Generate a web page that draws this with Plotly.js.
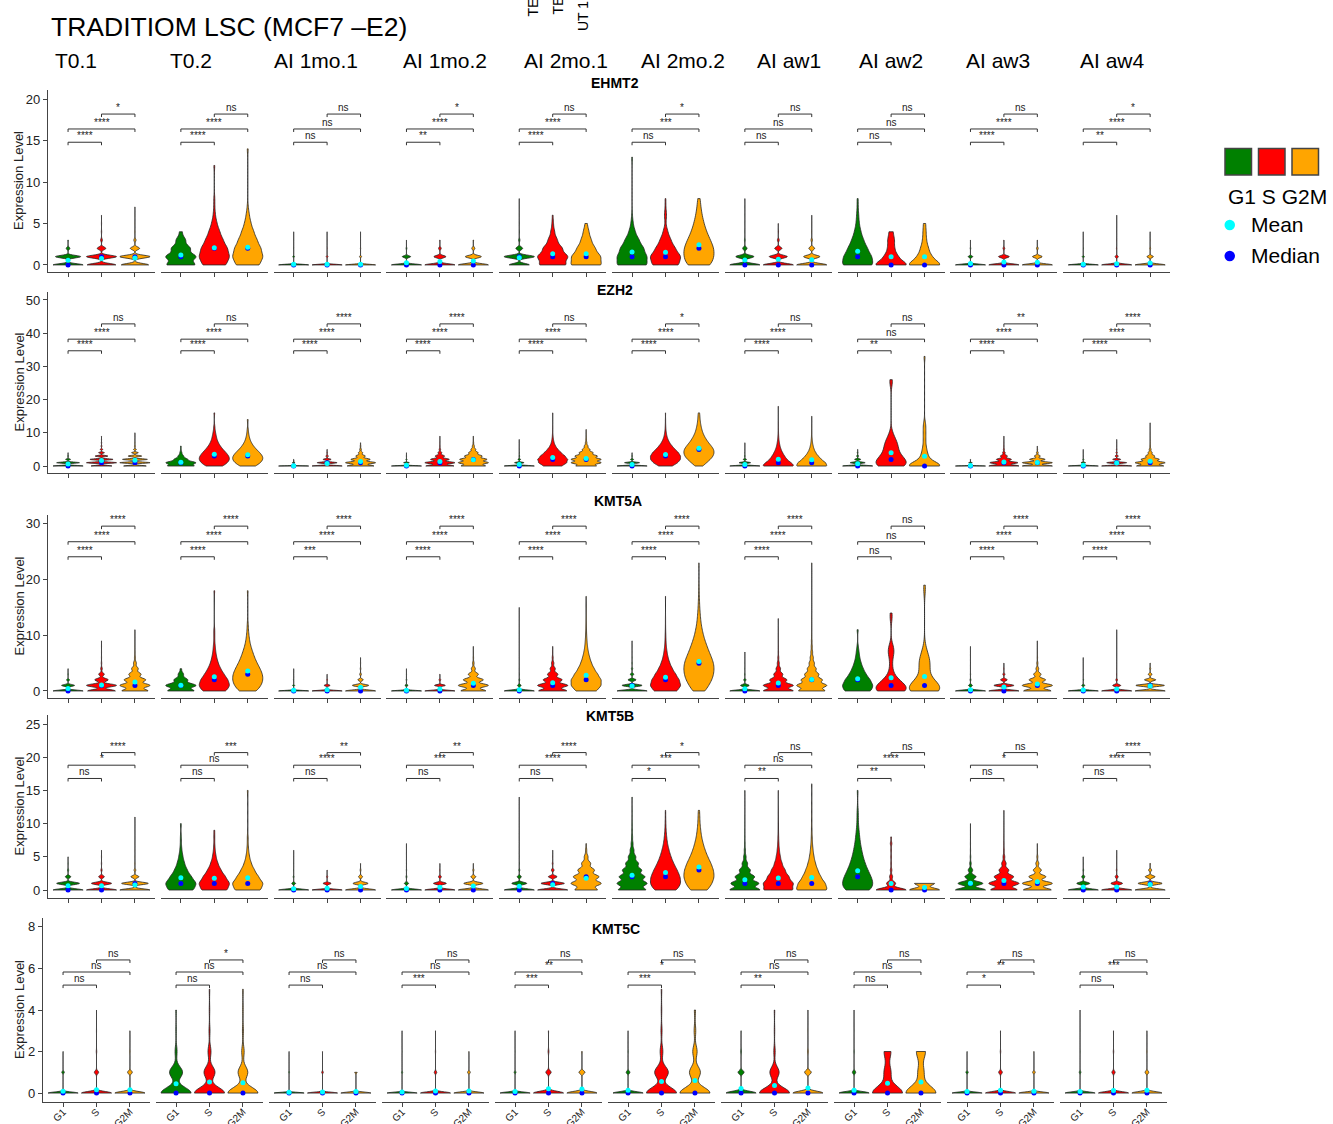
<!DOCTYPE html>
<html><head><meta charset="utf-8">
<script src="https://cdn.plot.ly/plotly-3.0.1.min.js"></script>
<style>html,body{margin:0;padding:0;background:#fff}#chart{width:1333px;height:1124px}</style>
</head><body><div id="chart"></div>
<script>
// ---------------- DATA ----------------
const conditions = ["T0.1","T0.2","AI 1mo.1","AI 1mo.2","AI 2mo.1","AI 2mo.2","AI aw1","AI aw2","AI aw3","AI aw4"];
const phases = ["G1","S","G2M"];
const genes = ["EHMT2","EZH2","KMT5A","KMT5B","KMT5C"];
// number of cells at each integer expression level 0,1,2,... ; per condition: [G1, S, G2M]
const EHMT2 = [
 [[500,420,60,8],[400,420,120,25,5,2,1],[380,420,130,30,6,2,1,1]],
 [[30,32,20,10,3],[22,28,24,16,10,5,2,1,1,0,0,0,1],[22,28,24,17,11,6,3,1,0,0,0,0,0,0,1]],
 [[900,50,8,2,1],[900,50,8,2,1],[900,60,8,2,1]],
 [[800,220,20,3],[700,280,60,8],[600,320,60,10]],
 [[300,450,100,20,5,2,1,1,1],[35,40,25,12,5,2,1],[28,26,16,9,5,2]],
 [[40,38,30,18,8,3,1,0,0,0,0,0,0,1],[35,40,25,14,6,1,3,1,1],[20,24,24,18,12,8,5,3,2]],
 [[550,330,80,15,3,1,1,1,1],[500,300,120,30,8,2],[520,280,100,25,6,2,1]],
 [[30,26,18,11,6,3,2,1,1],[40,16,8,8,5],[45,18,10,5,4,3]],
 [[850,130,15,3],[700,250,40,5],[720,230,40,5]],
 [[900,60,10,3,1],[880,90,15,5,2,1,1],[800,170,25,5,2]]
];
const EZH2 = [
 [[500,380,80,15,3],[180,260,200,110,50,20,8,3,1,1],[200,270,220,120,60,25,10,4,2,1,1]],
 [[40,45,20,8,3,1,1],[14,20,24,22,18,13,9,6,4,3,2,1,1,0,0,0,1],[12,18,22,21,17,12,8,5,3,2,1,1,0,0,1]],
 [[900,80,10],[450,300,120,40,10,3],[250,280,180,90,40,15,5,2]],
 [[800,150,30,8,2],[300,320,200,100,40,15,5,2,1,1],[180,220,200,130,70,35,15,5,2,1]],
 [[700,220,60,20,8,3,1,1,1],[100,150,160,130,90,55,30,15,8,4,2,1,1,0,0,0,1],[110,160,160,120,75,40,20,8,4,2,1,1]],
 [[600,300,60,15,3],[50,90,110,110,95,70,48,30,18,10,6,3,2,1,1,0,1],[20,40,60,75,80,78,65,50,38,28,20,15,11,8,6,5,4]],
 [[650,250,70,20,6,2,1,1],[220,160,110,80,55,35,22,14,8,5,3,2,1,1,0,0,0,0,1],[200,170,120,80,50,30,18,10,6,3,2,1,1,0,0,1]],
 [[300,150,60,20,8,2],[10,8,6,4,3,3,3,3,2,1,1,0,0,0,0,0,0,0,0,0,0,0,0,0,0,1,1],[26,5,4,3,2,2,1,1,1,1,1,1,1,1,0,0,0,0,0,0,0,0,0,0,0,0,0,0,0,0,0,0,0,1]],
 [[850,100,10],[300,280,150,70,25,10,4,2,1,1],[250,250,130,50,15,4,1]],
 [[800,120,30,8,3,1],[450,300,120,50,20,8,3,1,1],[300,330,200,100,45,20,8,4,2,1,1,0,0,1]]
];
const KMT5A = [
 [[650,280,60,12,3],[350,380,170,70,20,6,2,1,1,1],[280,320,230,130,70,30,10,4,2,1,1,1]],
 [[35,40,18,7,2],[25,32,28,20,13,8,5,3,2,1,1,1,0,0,0,0,0,0,1],[15,22,25,24,20,15,11,8,5,3,2,1,1,0,0,0,0,0,1]],
 [[900,60,15,5,2],[800,160,25,4],[550,300,100,30,10,3,1]],
 [[880,90,20,5,2],[700,250,40,6],[250,300,200,100,40,15,5,2,1]],
 [[850,100,25,8,3,1,1,0,0,0,0,0,0,0,0,1],[300,320,200,110,55,25,10,4,2],[120,170,170,130,90,60,40,25,15,10,6,4,3,2,1,1,0,1]],
 [[450,300,120,50,20,8,3,1,1,1],[140,180,160,120,80,50,30,18,10,6,4,2,1,1,0,0,0,1],[32,48,64,72,75,72,62,50,40,30,22,16,11,8,6,4,3,2,1,1,0,0,0,1]],
 [[700,200,50,15,5,2,1,1],[300,300,170,90,45,20,10,5,3,2,1,1,0,1],[150,170,120,80,50,30,18,10,6,4,2,1,1,1,0,0,0,0,0,0,0,0,0,1]],
 [[20,22,18,12,8,5,3,2,1,0,0,1],[16,12,5,2,1,1,1,3,2,0,0,0,0,1,1],[20,14,5,3,4,5,4,2,1,0,0,0,0,0,0,0,0,0,1,1]],
 [[850,110,25,8,3,2,1,1,1],[450,300,100,30,8,2],[300,330,180,80,30,12,5,2,1,1]],
 [[880,90,20,6,2,1,1],[750,200,40,10,4,2,1,1,0,0,0,1],[400,380,150,50,15,4]]
];
const KMT5B = [
 [[500,380,90,20,5,2],[520,350,100,20,5,2,1],[450,400,120,25,6,2,1,1,0,0,0,1]],
 [[25,30,20,12,7,4,2,1,1,0,1],[30,35,25,15,8,4,2,1,1,1],[30,35,24,15,8,4,2,1,1,0,0,0,0,0,0,1]],
 [[850,110,25,8,3,1,1],[750,200,30,5],[600,300,80,15,3]],
 [[850,120,25,8,3,1,1,1],[650,280,60,10,2],[550,350,90,20,4]],
 [[600,300,80,20,6,2,1,1,0,0,0,0,0,0,1],[450,350,130,40,12,3,1],[150,200,170,110,60,25,8,2]],
 [[130,140,120,90,60,35,18,9,5,3,2,1,1,0,1],[60,80,75,60,42,28,18,10,6,3,2,1,1],[40,60,70,66,55,40,28,19,12,8,5,4,3]],
 [[250,230,160,90,45,20,10,5,3,2,1,1,0,0,0,1],[200,200,140,90,50,28,15,8,5,3,2,1,1,0,0,1],[220,180,120,80,50,30,18,10,6,4,3,2,1,1,0,0,1]],
 [[22,24,20,15,11,8,6,4,3,2,1,1,1,0,0,1],[40,12,4,2,1,1,1,2,1],[6,4]],
 [[400,330,150,60,20,8,3,2,1,1,1],[300,340,220,110,50,20,8,4,2,1,1,0,1],[280,300,170,80,30,10,3,1]],
 [[600,260,60,15,4,1],[620,240,60,15,4,2,1],[400,320,130,40,8]]
];
const KMT5C = [
 [[3600,300,15],[3400,480,50,10,3],[3350,520,50,10]],
 [[60,26,4,1,1],[60,22,6,2,1,1],[62,20,5,2,1,1]],
 [[3850,120,10],[3750,200,12],[3650,300]],
 [[3800,150,15,3],[3600,300,30,6],[3600,320,25]],
 [[3720,220,20,6],[3200,560,90,18],[3200,640,60]],
 [[3440,420,40,6],[55,25,5,2,1,1],[55,20,8,3,2]],
 [[3200,640,90,18],[65,20,3,1,1],[3100,680,90,18,6]],
 [[3480,380,50,10,3],[22,5,5],[20,4,6]],
 [[3700,280,15],[3480,420,50,10],[3600,300,25]],
 [[3720,200,25,10,3],[3520,380,50,10],[3480,420,50,10]]
];
// significance labels per condition: [G1 vs S, G1 vs G2M, S vs G2M]
const EHMT2_sig = [["****","****","*"],["****","****","ns"],["ns","ns","ns"],["**","****","*"],["****","****","ns"],["ns","***","*"],["ns","ns","ns"],["ns","ns","ns"],["****","****","ns"],["**","****","*"]];
const EZH2_sig  = [["****","****","ns"],["****","****","ns"],["****","****","****"],["****","****","****"],["****","****","ns"],["****","****","*"],["****","****","ns"],["**","ns","ns"],["****","****","**"],["****","****","****"]];
const KMT5A_sig = [["****","****","****"],["****","****","****"],["***","****","****"],["****","****","****"],["****","****","****"],["****","****","****"],["****","****","****"],["ns","ns","ns"],["****","****","****"],["****","****","****"]];
const KMT5B_sig = [["ns","*","****"],["ns","ns","***"],["ns","****","**"],["ns","***","**"],["ns","****","****"],["*","***","*"],["**","ns","ns"],["**","****","ns"],["ns","*","ns"],["ns","****","****"]];
const KMT5C_sig = [["ns","ns","ns"],["ns","ns","*"],["ns","ns","ns"],["***","ns","ns"],["***","**","ns"],["***","*","ns"],["**","ns","ns"],["ns","ns","ns"],["*","**","ns"],["ns","***","ns"]];
const yTickVals = [[0,5,10,15,20],[0,10,20,30,40,50],[0,10,20,30],[0,5,10,15,20,25],[0,2,4,6,8]];

// ---------------- LAYOUT CONSTANTS ----------------
const geneData = [EHMT2, EZH2, KMT5A, KMT5B, KMT5C];
const geneSig = [EHMT2_sig, EZH2_sig, KMT5A_sig, KMT5B_sig, KMT5C_sig];
const W = 1333, H = 1124;
const PX = v => v / W, PY = v => 1 - v / H;
const FONT = "Liberation Sans, Arial, Helvetica, sans-serif";
const colors = ["#008000", "#FF0000", "#FFA500"];
const rowTop = [90, 292, 515, 715, 918];
const rowBot = [272, 473, 698, 898, 1102];
const yRanges = [[-0.85, 21.1], [-2.1, 52.4], [-1.26, 31.6], [-1.2, 26.36], [-0.43, 8.43]];
const brH = [[14.8, 16.4, 18.2], [34.7, 38.2, 42.8], [24.1, 26.8, 29.6], [16.8, 18.8, 20.7], [5.2, 5.83, 6.41]];
const rowLeft = [48, 48, 48, 48, 43];
const rowPitch = [112.8, 112.8, 112.8, 112.8, 113];
const panelW = 107;
const geneTitlePos = [[615, 83], [615, 290], [618, 501], [610, 716], [616, 929]];
const condLabelX = [53, 168, 272, 401, 522, 639, 755, 857, 964, 1078];

// ---------------- HELPERS ----------------
function expand(counts) { const v = []; counts.forEach((n, k) => { for (let j = 0; j < n; j++) v.push(k); }); return v; }
function q7(s, p) { const h = (s.length - 1) * p, lo = Math.floor(h), hi = Math.ceil(h); return s[lo] + (h - lo) * (s[hi] - s[lo]); }
function stats(vals) {
  const n = vals.length; const mean = vals.reduce((a, b) => a + b, 0) / n;
  const sd = Math.sqrt(vals.reduce((a, b) => a + (b - mean) * (b - mean), 0) / (n - 1));
  const s = vals.slice().sort((a, b) => a - b);
  const med = q7(s, 0.5); const iqr = q7(s, 0.75) - q7(s, 0.25);
  let lo = Math.min(sd, iqr / 1.34); if (!lo) lo = sd || Math.abs(s[0]) || 1;
  return { mean, med, bw: 0.9 * lo * Math.pow(n, -0.2) };
}

// ---------------- BUILD ----------------
const traces = [], annotations = [], shapes = [];
const layout = {
  width: W, height: H, margin: { l: 0, r: 0, t: 0, b: 0 }, paper_bgcolor: "#fff", plot_bgcolor: "rgba(0,0,0,0)",
  font: { family: FONT, color: "#1a1a1a" }, showlegend: false, violinmode: "overlay"
};

for (let r = 0; r < 5; r++) {
  const yName = r === 0 ? "y" : "y" + (r + 1);
  const yKey = r === 0 ? "yaxis" : "yaxis" + (r + 1);
  const firstX = r * 10 + 1;
  const pxPerUnit = (rowBot[r] - rowTop[r]) / (yRanges[r][1] - yRanges[r][0]);
  const d = 3 / pxPerUnit;
  layout[yKey] = {
    domain: [PY(rowBot[r]), PY(rowTop[r])], range: yRanges[r], anchor: firstX === 1 ? "x" : "x" + firstX,
    tickvals: yTickVals[r], showline: true, linecolor: "#444", linewidth: 1.2, ticks: "outside", ticklen: 4,
    tickcolor: "#444", tickfont: { size: 13, color: "#222" }, showgrid: false, zeroline: false, fixedrange: true
  };
  annotations.push({ xref: "paper", yref: "paper", x: PX(19), y: PY((rowTop[r] + rowBot[r]) / 2), text: "Expression Level",
    textangle: -90, showarrow: false, xanchor: "center", yanchor: "middle", font: { size: 13, color: "#222" } });
  annotations.push({ xref: "paper", yref: "paper", x: PX(geneTitlePos[r][0]), y: PY(geneTitlePos[r][1]), text: "<b>" + genes[r] + "</b>",
    showarrow: false, xanchor: "center", yanchor: "middle", font: { size: 14, color: "#000" } });

  for (let c = 0; c < 10; c++) {
    const i = r * 10 + c + 1;
    const xName = i === 1 ? "x" : "x" + i;
    const xKey = i === 1 ? "xaxis" : "xaxis" + i;
    const left = rowLeft[r] + c * rowPitch[r];
    layout[xKey] = {
      domain: [PX(left), PX(left + panelW)], range: [0.4, 3.6], anchor: yName,
      tickvals: [1, 2, 3], ticktext: phases, showticklabels: r === 4, tickangle: -45, ticklabelstandoff: -5,
      tickfont: { size: 10, color: "#222" }, showline: true, linecolor: "#444", linewidth: 1.2,
      ticks: "outside", ticklen: 4, tickcolor: "#444", showgrid: false, zeroline: false, fixedrange: true
    };
    const means = [], meds = [];
    for (let g = 0; g < 3; g++) {
      const vals = expand(geneData[r][c][g]);
      const st = stats(vals);
      means.push(st.mean); meds.push(st.med);
      traces.push({
        type: "violin", y: vals, x0: g + 1, xaxis: xName, yaxis: yName, width: 0.9, scalemode: "width",
        spanmode: "hard", bandwidth: st.bw, points: false, box: { visible: false }, meanline: { visible: false },
        fillcolor: colors[g], line: { color: "#262626", width: 0.8 }, opacity: 1, hoverinfo: "skip", showlegend: false
      });
    }
    traces.push({ type: "scatter", mode: "markers", x: [1, 2, 3], y: meds, xaxis: xName, yaxis: yName,
      marker: { color: "#0000FF", size: 5 }, hoverinfo: "skip", cliponaxis: false });
    traces.push({ type: "scatter", mode: "markers", x: [1, 2, 3], y: means, xaxis: xName, yaxis: yName,
      marker: { color: "#00FFFF", size: 5 }, hoverinfo: "skip", cliponaxis: false });
    const pairs = [[1, 2], [1, 3], [2, 3]];
    const bx = [], by = [];
    pairs.forEach((p, k) => {
      const h = brH[r][k];
      bx.push(p[0], p[0], p[1], p[1], null); by.push(h - d, h, h, h - d, null);
      annotations.push({ xref: xName, yref: yName, x: (p[0] + p[1]) / 2, y: h, text: geneSig[r][c][k],
        showarrow: false, xanchor: "center", yanchor: "bottom", yshift: -1, font: { size: 10, color: "#222" } });
    });
    traces.push({ type: "scatter", mode: "lines", x: bx, y: by, xaxis: xName, yaxis: yName,
      line: { color: "#333", width: 1 }, hoverinfo: "skip", cliponaxis: false });
  }
}

// titles & headers
annotations.push({ xref: "paper", yref: "paper", x: PX(49), y: PY(27), text: "TRADITIOM LSC (MCF7 \u2013E2)", showarrow: false,
  xanchor: "left", yanchor: "middle", font: { size: 26.5, color: "#000" } });
conditions.forEach((t, c) => annotations.push({ xref: "paper", yref: "paper", x: PX(condLabelX[c]), y: PY(61), text: t,
  showarrow: false, xanchor: "left", yanchor: "middle", font: { size: 21, color: "#000" } }));
[["TE", 532.5, 19], ["TE", 557.5, 17], ["UT 1", 583, 33]].forEach(a => annotations.push({ xref: "paper", yref: "paper",
  x: PX(a[1]), y: PY(a[2]), text: a[0], textangle: -90, showarrow: false, xanchor: "center", yanchor: "bottom",
  font: { size: 14, color: "#000" } }));

// legend
[[1225, "#008000"], [1258.5, "#FF0000"], [1292, "#FFA500"]].forEach(s => shapes.push({ type: "rect", xref: "paper", yref: "paper",
  x0: PX(s[0]), x1: PX(s[0] + 26.5), y0: PY(175), y1: PY(148.5), fillcolor: s[1], line: { color: "#444", width: 1.5 } }));
annotations.push({ xref: "paper", yref: "paper", x: PX(1226), y: PY(196), text: "G1 S G2M", showarrow: false,
  xanchor: "left", yanchor: "middle", font: { size: 21, color: "#000" } });
[[225, "#00FFFF", "Mean"], [256, "#0000FF", "Median"]].forEach(m => {
  shapes.push({ type: "circle", xref: "paper", yref: "paper", x0: PX(1224.5), x1: PX(1235), y0: PY(m[0] + 5.2), y1: PY(m[0] - 5.2),
    fillcolor: m[1], line: { width: 0 } });
  annotations.push({ xref: "paper", yref: "paper", x: PX(1249), y: PY(m[0]), text: m[2], showarrow: false,
    xanchor: "left", yanchor: "middle", font: { size: 21, color: "#000" } });
});

layout.annotations = annotations;
layout.shapes = shapes;
Plotly.newPlot("chart", traces, layout, { staticPlot: true, displayModeBar: false });
</script></body></html>
